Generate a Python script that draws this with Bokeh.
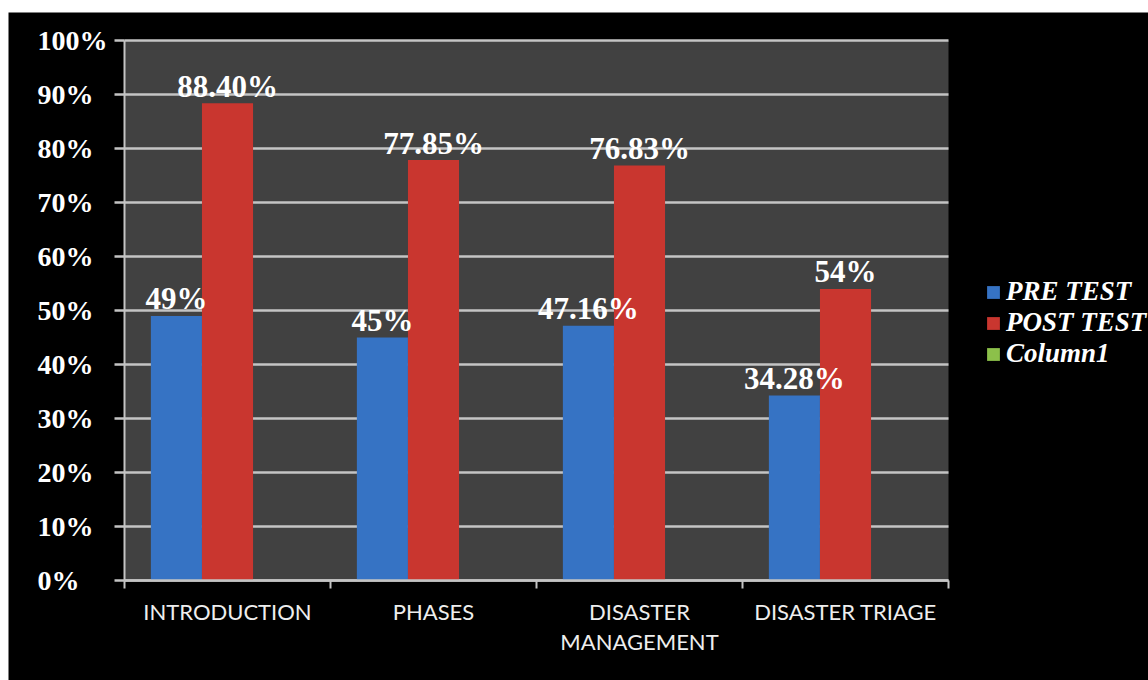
import numpy as np
from bokeh.plotting import figure
from bokeh.models import (Range1d, FixedTicker, ColumnDataSource,
                          Legend, LegendItem, Spacer)
from bokeh.layouts import column, row
from bokeh.core.properties import value
from bokeh.embed import file_html
from bokeh.resources import INLINE

# ---- data ----
categories = ["INTRODUCTION", "PHASES", "DISASTER\nMANAGEMENT", "DISASTER TRIAGE"]
series_names = ["PRE TEST", "POST TEST", "Column1"]
pre_test = [49, 45, 47.16, 34.28]
post_test = [88.40, 77.85, 76.83, 54]
column1 = [0, 0, 0, 0]
pre_labels = ["49%", "45%", "47.16%", "34.28%"]
post_labels = ["88.40%", "77.85%", "76.83%", "54%"]
y_ticks = [0, 10, 20, 30, 40, 50, 60, 70, 80, 90, 100]
y_tick_labels = ["0%", "10%", "20%", "30%", "40%", "50%", "60%", "70%", "80%", "90%", "100%"]

# ---- style / layout ----
BLUE = "#3673c4"
RED = "#c9362f"
GREEN = "#8cc04a"
GRID = "#c4c4c4"
PLOT_BG = "#414141"
BAR_W = 0.248

FIG_W, FIG_H = 1140, 668
AREA_L, AREA_R, AREA_T, AREA_B = 116, 940, 28, 568   # plot-area box in figure px
YLAB_LEFT = 29                                        # left edge of y tick labels, figure px

n = len(categories)
centers = np.arange(n) + 0.5
ymax = y_ticks[-1]

px_x = (AREA_R - AREA_L) / n
px_y = (AREA_B - AREA_T) / ymax
x_range = Range1d(-AREA_L / px_x, n + (FIG_W - AREA_R) / px_x)
y_range = Range1d(-(FIG_H - AREA_B) / px_y, ymax + AREA_T / px_y)

p = figure(width=FIG_W, height=FIG_H, output_backend="svg", toolbar_location=None,
           x_range=x_range, y_range=y_range, min_border=0)
p.background_fill_color = "#000000"
p.border_fill_color = "#000000"
p.outline_line_color = None
p.xgrid.grid_line_color = None
p.ygrid.grid_line_color = None

# plot area background
p.quad(left=[0], right=[n], bottom=[0], top=[ymax], fill_color=PLOT_BG, line_color=None)
# horizontal grid lines
p.segment(x0=[0] * len(y_ticks), x1=[n] * len(y_ticks), y0=y_ticks, y1=y_ticks,
          line_color=GRID, line_width=2.5)

src_pre = ColumnDataSource(dict(x=centers - BAR_W, top=pre_test, lab=pre_labels))
src_post = ColumnDataSource(dict(x=centers, top=post_test, lab=post_labels))
src_c1 = ColumnDataSource(dict(x=centers + BAR_W, top=column1))

r_pre = p.vbar(x="x", top="top", width=BAR_W, source=src_pre,
               fill_color=BLUE, line_color=None)
r_post = p.vbar(x="x", top="top", width=BAR_W, source=src_post,
                fill_color=RED, line_color=None)
r_col1 = p.vbar(x="x", top="top", width=BAR_W, source=src_c1,
                fill_color=GREEN, line_color=None)

for src in (src_pre, src_post):
    p.text(x="x", y="top", text="lab", source=src,
           text_font=value("Liberation Serif"), text_font_style="bold",
           text_font_size="31px", text_color="white",
           text_align="center", text_baseline="alphabetic", y_offset=-17)

# y tick labels (left aligned, as in the reference)
ylab_src = ColumnDataSource(dict(y=y_ticks, text=y_tick_labels,
                                 x=[(YLAB_LEFT - AREA_L) / px_x] * len(y_ticks)))
p.text(x="x", y="y", text="text", source=ylab_src,
       text_font=value("Liberation Serif"), text_font_style="bold",
       text_font_size="28px", text_color="white",
       text_align="left", text_baseline="middle")

# y axis (inside the frame, at x = 0)
yax = p.yaxis[0]
yax.fixed_location = 0
yax.bounds = (0, ymax)
yax.ticker = FixedTicker(ticks=y_ticks)
yax.major_label_overrides = {t: "" for t in y_ticks}
yax.axis_line_color = GRID
yax.axis_line_width = 2
yax.major_tick_line_color = GRID
yax.major_tick_line_width = 2.5
yax.major_tick_out = 10
yax.major_tick_in = 0
yax.minor_tick_line_color = None

# x axis (at y = 0)
xax = p.xaxis[0]
xax.fixed_location = 0
xax.bounds = (0, n)
xax.ticker = FixedTicker(ticks=list(centers), minor_ticks=list(range(n + 1)))
xax.major_label_overrides = {float(c): lab for c, lab in zip(centers, categories)}
xax.axis_line_color = GRID
xax.axis_line_width = 2.5
xax.major_tick_line_color = None
xax.major_tick_out = 0
xax.major_tick_in = 0
xax.minor_tick_line_color = GRID
xax.minor_tick_line_width = 2
xax.minor_tick_out = 8
xax.minor_tick_in = 0
xax.major_label_standoff = 9
xax.major_label_text_font = "Lato"
xax.major_label_text_font_size = "22px"
xax.major_label_text_color = "#eeeeee"
xax.major_label_text_line_height = 1.13

legend = Legend(items=[LegendItem(label=series_names[0], renderers=[r_pre]),
                       LegendItem(label=series_names[1], renderers=[r_post]),
                       LegendItem(label=series_names[2], renderers=[r_col1])],
                location=(977, 311), padding=0, margin=0,
                background_fill_alpha=0, border_line_color=None,
                glyph_width=16, glyph_height=16, label_standoff=5, spacing=0,
                label_text_font="Liberation Serif", label_text_font_style="bold italic",
                label_text_font_size="27px", label_text_color="white")
p.add_layout(legend, "center")

layout = column(Spacer(height=12, width=1148),
                row(Spacer(width=8, height=FIG_H), p))
open("out.html", "w").write(file_html(layout, INLINE))
